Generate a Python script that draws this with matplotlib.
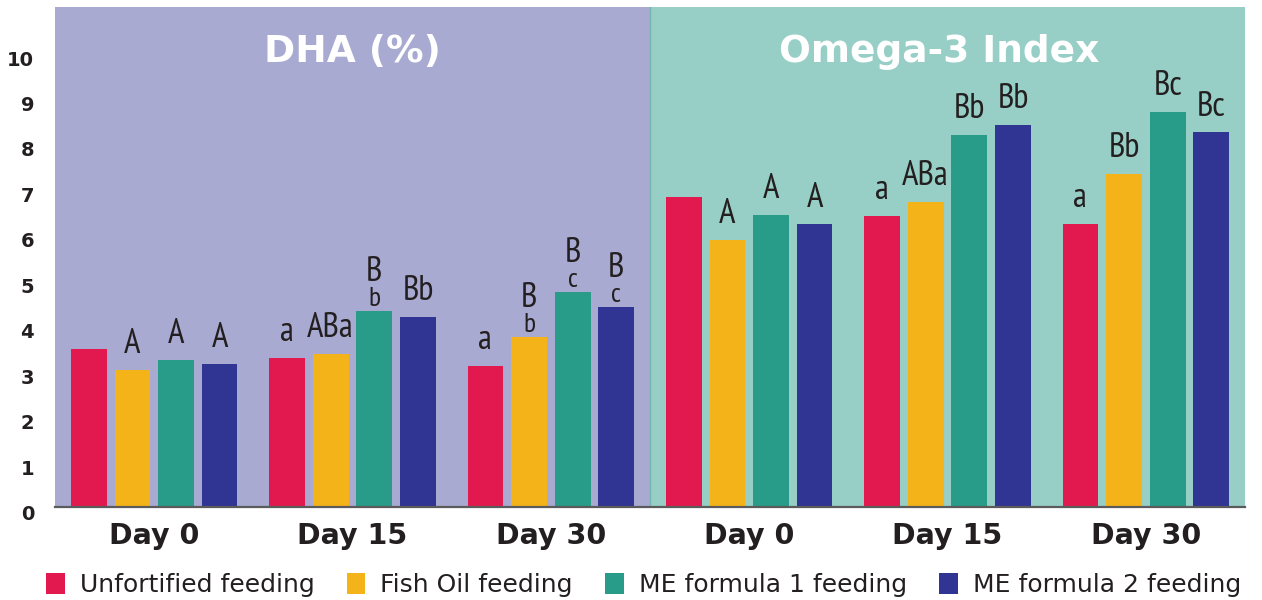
import numpy as np
import matplotlib.pyplot as plt
from matplotlib.patches import Patch
from matplotlib.transforms import offset_copy, blended_transform_factory, ScaledTranslation

# groups: DHA (%) on the left, Omega-3 Index on the right
days = ["Day 0", "Day 15", "Day 30", "Day 0", "Day 15", "Day 30"]
series = ["Unfortified feeding", "Fish Oil feeding", "ME formula 1 feeding", "ME formula 2 feeding"]

unfortified = [3.48, 3.28, 3.11, 6.81, 6.41, 6.23]
fish_oil = [3.02, 3.37, 3.74, 5.88, 6.72, 7.33]
me_formula1 = [3.24, 4.32, 4.74, 6.43, 8.19, 8.70]
me_formula2 = [3.15, 4.18, 4.41, 6.23, 8.41, 8.24]

# significance letters, "\n" puts the second letter below the first
lab_unfortified = ["", "a", "a", "", "a", "a"]
lab_fish_oil = ["A", "ABa", "B\nb", "A", "ABa", "Bb"]
lab_me1 = ["A", "B\nb", "B\nc", "A", "Bb", "Bc"]
lab_me2 = ["A", "Bb", "B\nc", "A", "Bb", "Bc"]

panel_titles = ["DHA (%)", "Omega-3 Index"]
yticks = np.arange(0, 11)

colors = ["#E2194F", "#F5B31A", "#289C89", "#303593"]
bg_left = "#A8AAD1"
bg_right = "#97CFC6"

values = [unfortified, fish_oil, me_formula1, me_formula2]
labels = [lab_unfortified, lab_fish_oil, lab_me1, lab_me2]

letter_font = ["PT Sans Narrow", "Archivo Narrow", "DejaVu Sans"]
ink = "#231F20"

fig = plt.figure(figsize=(12.62, 6.0), dpi=100)
ax = fig.add_axes([55 / 1262, 93 / 600, 1190 / 1262, 500 / 600])

ax.axvspan(-0.5, 2.5, color=bg_left, zorder=0, lw=0)
ax.axvspan(2.5, 5.5, color=bg_right, zorder=0, lw=0)
ax.axvline(2.5, color="#74B5AC", lw=1, zorder=1)

x = np.arange(len(days))
step = 0.22
width = 0.18

for i, (vals, labs, c) in enumerate(zip(values, labels, colors)):
    xs = x + (i - 1.5) * step
    ax.bar(xs, vals, width=width, color=c, zorder=2)
    for xi, v, lab in zip(xs, vals, labs):
        if not lab:
            continue
        parts = lab.split("\n")
        if len(parts) == 1:
            tr = offset_copy(ax.transData, fig=fig, x=0, y=12, units="points")
            ax.text(xi, v, lab, ha="center", va="baseline", transform=tr,
                    fontsize=25, family=letter_font, color=ink)
        else:
            tr = offset_copy(ax.transData, fig=fig, x=0, y=3.5, units="points")
            ax.text(xi, v, parts[1], ha="center", va="baseline", transform=tr,
                    fontsize=20, family=letter_font, color=ink)
            tr = offset_copy(ax.transData, fig=fig, x=0, y=21.5, units="points")
            ax.text(xi, v, parts[0], ha="center", va="baseline", transform=tr,
                    fontsize=25, family=letter_font, color=ink)

tb = blended_transform_factory(ax.transData, ax.transAxes)
ax.text(1, 0.89, panel_titles[0], transform=tb, ha="center", va="baseline",
        fontsize=27, fontweight="bold", color="white")
ax.text(3.96, 0.89, panel_titles[1], transform=tb, ha="center", va="baseline",
        fontsize=27, fontweight="bold", color="white")

ax.set_xlim(-0.5, 5.5)
ax.set_ylim(0, 11)
ax.set_xticks(x)
ax.set_xticklabels(days, fontsize=20.5, fontweight="bold", color=ink)
ax.set_yticks(yticks)
ax.set_yticklabels([str(t) for t in yticks], fontsize=14, fontweight="bold", color=ink)
ax.tick_params(axis="x", length=0, pad=11)
ax.tick_params(axis="y", length=0, pad=15)
# the printed scale sits a few pixels below the gridline values
for lbl in ax.get_yticklabels():
    lbl.set_transform(lbl.get_transform() + ScaledTranslation(0, -4 / 72, fig.dpi_scale_trans))
for s in ["top", "right", "left"]:
    ax.spines[s].set_visible(False)
ax.spines["bottom"].set_color("#5B5B5B")
ax.spines["bottom"].set_linewidth(1.6)

handles = [Patch(facecolor=c, edgecolor="none") for c in colors]
fig.legend(handles, series, loc="center", bbox_to_anchor=(0.51, 15 / 600), ncol=4,
           frameon=False, handlelength=0.74, handleheight=0.95, handletextpad=0.6,
           columnspacing=1.3, prop={"family": "DejaVu Sans", "size": 18},
           labelcolor=ink)

fig.savefig("out.png", dpi=100)
